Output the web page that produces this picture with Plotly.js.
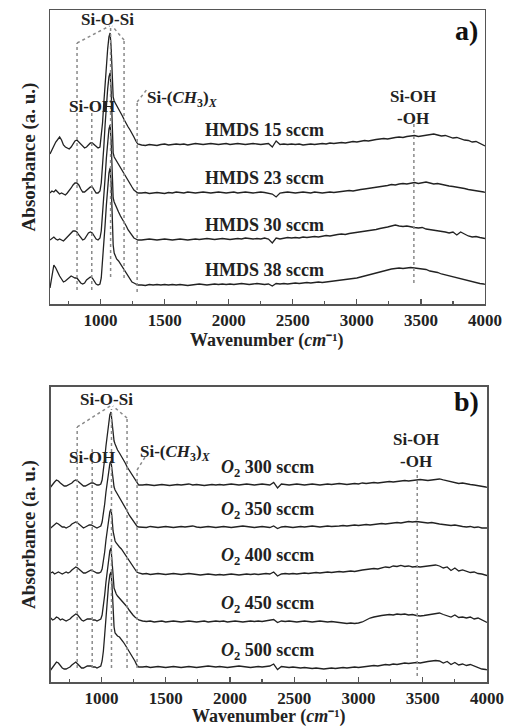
<!DOCTYPE html>
<html>
<head>
<meta charset="utf-8">
<script src="https://cdn.plot.ly/plotly-3.0.1.min.js"></script>
<style>html,body{margin:0;padding:0;background:#fff;}#chart{width:515px;height:727px;}</style>
</head>
<body>
<div id="chart"></div>
<script>
// Wavenumber sampling (cm^-1), shared by every spectrum
const wavenumber = [
  605,620,635,650,665,680,695,710,725,740,
  755,770,785,800,815,830,845,860,875,890,
  905,920,935,950,965,980,995,1005,1015,1025,
  1035,1045,1055,1065,1074,1082,1090,1098,1106,1115,
  1125,1140,1155,1170,1185,1200,1215,1230,1245,1260,
  1275,1290,
  1320,1350,1380,1410,1440,1470,1500,1530,1560,1590,
  1620,1650,1680,1710,1740,1770,1800,1830,1860,1890,
  1920,1950,1980,2010,2040,2070,2100,2130,2160,2190,
  2220,2250,2280,2310,2340,2370,2400,2430,2460,2490,
  2520,2550,2580,2610,2640,2670,2700,2730,2760,2790,
  2820,2850,2880,2910,2940,2970,3000,3030,3060,3090,
  3120,3150,3180,3210,3240,3270,3300,3330,3360,3390,
  3420,3450,3480,3510,3540,3570,3600,3630,3660,3690,
  3720,3750,3780,3810,3840,3870,3900,3930,3960,3990,
  4000
];

// Panel a) : HMDS flow series (absorbance, a.u., relative to own baseline)
const hmdsLabels = ['HMDS 15 sccm', 'HMDS 23 sccm', 'HMDS 30 sccm', 'HMDS 38 sccm'];
const hmdsOffset = [159, 111, 64, 19];
const hmds15 = [
  -9,-4,-1,3,6,8,5,0,-2,-3,
  -4,-2,1,4,5,3,0,-2,-3,-2,
  0,2,2,0,-2,-3,-2,8,22,42,
  62,80,96,108,112,98,72,48,44,42,
  40,37,33,29,25,21,18,15,12,8,
  4,1,
  0,-0.5,0.5,0,-0.5,0.5,1,0,0.5,1,
  0.5,1,0,0.5,1.5,1,0.5,1,1.5,1,
  0.5,1,1.5,0.5,1,1.5,1,0.5,1,1.5,
  1,0.5,1,1.5,-2,4,0.5,1,0.5,1,
  0.5,1,0,0.5,1,0.5,1,1.5,1,2,
  1.5,2,2.5,2,3,3.5,3,4,4.5,4,
  5,5.5,6,6.5,6,7,7.5,8,7.5,8.5,
  9,9.5,8.5,9,10,10.5,11,10,9,9.5,
  8,7,7.5,6,5,4.5,3,3.5,1.5,0,
  -1
];
const hmds23 = [
  0,2,1,3,1,-1,0,-1,-2,0,
  2,5,8,10,10,8,4,1,1,3,
  5,6,6,3,0,0,2,10,26,46,
  68,88,104,116,120,104,76,40,36,34,
  32,29,26,22,18,15,12,9,6,3,
  1,0,
  0,0.5,-0.5,0,0.5,0,-0.5,0.5,0,1,
  0.5,0,1,0.5,0,0.5,1,0.5,0,0.5,
  1,0.5,0,0.5,1,0,0.5,1,0.5,0,
  0.5,1,0.5,0,-1,-4,0,0.5,1,0.5,
  0,0.5,1,0.5,0,1,0.5,0,0.5,1,
  0.5,1,1.5,2,2.5,2,3,3.5,4,4.5,
  5,6,6.5,7,7.5,8.5,8,9,9.5,9,
  10,10.5,9.5,10,11,10,9,9.5,8.5,8,
  7,6.5,6,5,4.5,3.5,3,2,1.5,1,
  0.5
];
const hmds30 = [
  0,2,3,1,0,1,0,-1,1,3,
  5,7,9,9,8,5,2,0,1,4,
  7,8,7,4,1,0,2,9,24,42,
  62,82,100,111,115,100,70,42,38,35,
  32,28,24,21,18,14,10,7,4,2,
  1,0,
  0,0.5,1,0.5,0,0.5,1,0.5,0,0.5,
  1,0.5,0,0.5,1,0.5,1,1.5,1,0.5,
  1,1.5,1,0.5,1,1.5,1,2,1.5,1,
  1.5,1,2,1,-3,2,1,2,2.5,2,
  2.5,2,3,2.5,3,3.5,3,4,4.5,4,
  5,5.5,6,5.5,6.5,7,7.5,8,8.5,9,
  10,10.5,11.5,12,13,14,15,14,13.5,14,
  13,12.5,12,12.5,11,10.5,10,9,8.5,8,
  7,8,5,8,6,4,3,3.5,2.5,2,
  1.5
];
const hmds38 = [
  -3,8,20,17,12,9,6,3,4,6,
  8,9,8,7,7,4,2,1,2,5,
  7,8,7,4,1,0,1,7,22,40,
  60,80,98,112,117,102,72,40,32,29,
  26,24,21,18,15,11,8,5,3,2,
  1,0,
  0,-0.5,0.5,0,0.5,0,0.5,0,0.5,0,
  0.5,0,-0.5,0,0.5,1,0.5,0,0.5,1,
  0.5,1,0.5,1,0.5,1,1.5,1,0.5,1,
  1.5,1,0.5,1,-1,1.5,1,1.5,1,1.5,
  2,1.5,2,2.5,2,2.5,3,2.5,3,3.5,
  4,4.5,5,5,5.5,6,7,8,9,10,
  11,12,13,14.5,15.5,16,16.5,17,16.5,17,
  17.5,17,16.5,16,15.5,14,13.5,12.5,11,10,
  9,8,7,6.5,5,4,3.5,2.5,1.5,1,
  0.5
];

// Panel b) : O2 flow series
const o2Labels = ['300 sccm', '350 sccm', '400 sccm', '450 sccm', '500 sccm'];
const o2Offset = [197, 155, 109, 62, 15];
const o2_300 = [
  -2,1,3,5,4,2,0,-1,-1,0,
  1,2,4,5,4,2,0,-1,-1,0,
  1,2,2,1,0,0,1,5,14,26,
  39,51,62,70,73,64,50,44,41,38,
  35,32,29,25,22,18,15,11,8,5,
  2,0,
  0,0.5,0,-0.5,0,0.5,0,-0.5,0,0.5,
  0,0.5,1,0,0.5,0,-0.5,0,0.5,0,
  0.5,0,0.5,1,0.5,0,0.5,1,0.5,0,
  0.5,1,0.5,0,2.5,-3,1,0.5,0,0.5,
  1,0.5,0,0.5,1,0.5,0,0.5,1,0.5,
  1,1.5,1,0.5,1,1.5,1,2,1.5,2,
  2.5,2,2.5,3,3.5,3,3.5,4,4.5,4,
  4.5,5,5.5,5,4.5,5,5.5,6,5,4,
  3,2.5,1.5,2,1,0.5,0,-0.5,-1,-2,
  -2.5
];
const o2_350 = [
  -1,1,3,4,3,1,0,0,-1,0,
  1,3,4,5,4,2,0,-1,0,1,
  2,2,1,0,-1,0,1,5,12,23,
  35,46,56,63,66,58,46,40,37,35,
  33,30,27,23,19,16,12,9,6,3,
  1,0,
  0,-0.5,0.5,0,-0.5,0,0.5,0,-0.5,0,
  0.5,0,0.5,1,0,-0.5,0,0.5,0,-0.5,
  0,0.5,0,-0.5,0,0.5,1,0.5,0,-0.5,
  0,0.5,0,-0.5,1,-1.5,0,0.5,0,-0.5,
  0,0.5,0,0.5,1,0.5,0,0.5,1,0.5,
  0.5,1,1.5,1,1.5,2,1.5,2,2.5,2,
  2.5,3,3.5,3,3.5,4,4.5,4,5,5.5,
  5,5.5,5,4.5,4,4.5,3.5,3,2.5,2,
  1.5,2,1,0.5,0,0.5,-0.5,0,-1,-0.5,
  -1
];
const o2_400 = [
  0,1,-1,0,1,0,-1,0,1,0,
  1,3,5,6,5,3,1,0,0,1,
  2,3,2,1,0,0,1,4,11,21,
  33,44,54,61,64,56,42,35,32,30,
  28,26,24,21,18,15,12,9,6,3,
  1,0,
  -1,-0.5,-1.5,-1,-0.5,-1,-1.5,-1,-0.5,-1,
  -1.5,-1,-0.5,-1,-1.5,-2,-1.5,-1,-1.5,-2,
  -1.5,-2,-1.5,-1,-1.5,-2,-1.5,-1,-1.5,-1,
  -1.5,-1,-0.5,-1,1,-3,-1,-0.5,-1,-0.5,
  -1,-0.5,0,-0.5,0,0.5,0,0.5,1,0.5,
  1,1.5,1,1.5,2,1.5,2.5,3,3.5,4,
  4.5,4,5,6,5.5,7,6.5,7.5,6.5,7,
  6,6.5,6,6.5,7,7.5,8,7,5,6,
  2.5,5,2,3,1.5,0.5,1,-0.5,-1,-2,
  -2.5
];
const o2_450 = [
  2,0,1,3,2,0,1,0,-1,0,
  1,3,5,6,5,2,0,-1,0,1,
  1,1,0,0,-1,0,1,5,13,25,
  38,50,61,69,72,62,46,32,28,26,
  24,22,20,18,16,13,10,7,5,3,
  1,0,
  -1,-1.5,-1,-2,-1.5,-1,-2,-1.5,-1,-1.5,
  -2,-1.5,-1,-1.5,-2,-1.5,-1,-2,-1.5,-1,
  -1.5,-1,-2,-1.5,-1,-1.5,-2,-1.5,-1,-1.5,
  -1,-1.5,-1,-0.5,0.5,-2.5,-1,-1.5,-1,-1.5,
  -2,-1.5,-1,-1.5,-2,-1.5,-1,-1.5,-2,-1.5,
  -2,-2.5,-3,-3.5,-3,-3.5,-3,-2,0,2,
  3,4,4.5,5,5.5,5,6,5.5,6,5,
  5.5,4.5,4,4.5,5,6,6.5,7,5.5,4.5,
  3,5,2.5,3,2,3,1,2,0,-2,
  -2.5
];
const o2_500 = [
  -3,0,3,5,4,1,-1,-2,-2,-1,
  0,2,4,5,3,1,-1,-1,0,1,
  1,1,0,0,-1,0,1,6,16,32,
  50,67,82,92,95,82,60,40,34,32,
  31,30,28,25,22,19,16,13,9,6,
  2,0,
  0,0.5,-0.5,0,0.5,0,-0.5,0,0.5,0,
  -0.5,0,0.5,0,-0.5,0,0.5,1,0.5,0,
  0.5,0,-0.5,0,0.5,1,0.5,0,-0.5,0,
  0.5,0,0.5,1,3,-2.5,0.5,0,-0.5,0,
  -0.5,-1,-0.5,-1,-1.5,-1,-1.5,-2,-1.5,-1,
  -1.5,-1,-0.5,-1,-0.5,0,-0.5,0,0.5,1,
  1.5,1,2,2.5,2,3,2.5,3.5,4,3.5,
  4,4.5,4,5,5.5,6,6.5,6,4,5.5,
  2.5,4.5,2,3,1.5,2.5,1,0,-2,-2.5,
  -3
];

const hmdsSeries = [hmds15, hmds23, hmds30, hmds38];
const o2Series = [o2_300, o2_350, o2_400, o2_450, o2_500];

const serif = 'Liberation Serif, Times New Roman, serif';
const lineColor = '#222222';
const traces = [];
hmdsSeries.forEach((s, i) => {
  traces.push({x: wavenumber, y: s.map(v => v + hmdsOffset[i]), type: 'scatter', mode: 'lines',
    line: {color: lineColor, width: 1.3}, xaxis: 'x', yaxis: 'y', name: hmdsLabels[i], hoverinfo: 'skip'});
});
o2Series.forEach((s, i) => {
  traces.push({x: wavenumber, y: s.map(v => v + o2Offset[i]), type: 'scatter', mode: 'lines',
    line: {color: lineColor, width: 1.3}, xaxis: 'x2', yaxis: 'y2', name: 'O2 ' + o2Labels[i], hoverinfo: 'skip'});
});

const labFont = {family: serif, size: 17, color: '#222', weight: 'bold'};
const serFont = {family: serif, size: 18, color: '#222', weight: 'bold'};
const titleFont = {family: serif, size: 18, color: '#222', weight: 'bold'};
const annotations = [];
function ann(xref, yref, x, y, text, font) {
  annotations.push({xref: xref, yref: yref, x: x, y: y, text: text, showarrow: false,
    xanchor: 'center', yanchor: 'middle', font: font});
}
hmdsLabels.forEach((t, i) => ann('x', 'y', 2277, hmdsOffset[i] + 15, t, serFont));
o2Labels.forEach((t, i) => ann('x2', 'y2', 2293, o2Offset[i] + 16, '<i>O</i><sub>2</sub> ' + t, serFont));

const chText = 'Si-(<i>CH</i><sub>3</sub>)<sub><i>X</i></sub>';
// panel a labels
ann('x', 'y', 1050, 285, 'Si-O-Si', labFont);
ann('x', 'y', 933, 198, 'Si-OH', labFont);
ann('x', 'y', 1636, 205, chText, labFont);
ann('x', 'y', 3441, 197, 'Si-OH<br>-OH', labFont);
ann('x', 'y', 3855, 274, 'a)', {family: serif, size: 28, color: '#111', weight: 'bold'});
// panel b labels
ann('x2', 'y2', 1041, 282, 'Si-O-Si', labFont);
ann('x2', 'y2', 924, 224, 'Si-OH', labFont);
ann('x2', 'y2', 1577, 229, chText, labFont);
ann('x2', 'y2', 3444, 231, 'Si-OH<br>-OH', labFont);
ann('x2', 'y2', 3840, 280, 'b)', {family: serif, size: 28, color: '#111', weight: 'bold'});
// x-axis titles (placed under each panel's tick labels)
const xTitle = 'Wavenumber (<i>cm</i>⁻¹)';
annotations.push({xref: 'x domain', yref: 'paper', x: 0.5, y: (682 - 340) / 672, text: xTitle,
  showarrow: false, xanchor: 'center', yanchor: 'middle', font: titleFont});
annotations.push({xref: 'x2 domain', yref: 'paper', x: 0.5, y: (682 - 716.5) / 672, text: xTitle,
  showarrow: false, xanchor: 'center', yanchor: 'middle', font: titleFont});

const dot = {color: '#8a8a8a', width: 1.5, dash: 'dot'};
const shapes = [];
function seg(xr, yr, x0, y0, x1, y1) {
  shapes.push({type: 'line', xref: xr, yref: yr, x0: x0, y0: y0, x1: x1, y1: y1, line: dot});
}
// panel a guide lines
seg('x','y', 816, 14, 816, 261);
seg('x','y', 931, 14, 931, 199);
seg('x','y', 1078, 27, 1078, 277);
seg('x','y', 1183, 26, 1183, 264);
seg('x','y', 1285, 12, 1285, 202);
seg('x','y', 3445, 21, 3445, 189);
seg('x','y', 816, 261, 1070, 278);
seg('x','y', 1183, 264, 1090, 278);
seg('x','y', 1285, 202, 1370, 216);
// panel b guide lines
seg('x2','y2', 811, 14, 811, 255);
seg('x2','y2', 928, 14, 928, 235);
seg('x2','y2', 1078, 14, 1078, 273);
seg('x2','y2', 1199, 14, 1199, 264);
seg('x2','y2', 1277, 14, 1277, 212);
seg('x2','y2', 3457, 6, 3457, 212);
seg('x2','y2', 811, 255, 1068, 276);
seg('x2','y2', 1199, 264, 1088, 276);
seg('x2','y2', 1277, 212, 1340, 225);

function xAxis(domain) {
  return {
    domain: domain, range: [605, 4000], tickmode: 'array',
    tickvals: [1000, 1500, 2000, 2500, 3000, 3500, 4000],
    ticks: 'inside', ticklen: 5, tickwidth: 1.2, tickcolor: '#555',
    minor: {tickmode: 'array', tickvals: [750, 1250, 1750, 2250, 2750, 3250, 3750], ticks: 'inside', ticklen: 3, tickcolor: '#555', tickwidth: 1.2},
    showline: true, mirror: true, linecolor: '#555', linewidth: 1.5,
    showgrid: false, zeroline: false, automargin: false,
    tickfont: {family: serif, size: 17, color: '#222', weight: 'bold'}
  };
}
function yAxis(domain, range) {
  return {
    domain: domain, range: range, showticklabels: false, ticks: '',
    showline: true, mirror: true, linecolor: '#555', linewidth: 1.5,
    showgrid: false, zeroline: false, automargin: false,
    title: {text: 'Absorbance (a. u.)', font: {family: serif, size: 19, color: '#222', weight: 'bold'}, standoff: 8}
  };
}

const layout = {
  width: 515, height: 727,
  margin: {l: 50, r: 28, t: 10, b: 45},
  paper_bgcolor: '#fff', plot_bgcolor: '#fff',
  showlegend: false,
  xaxis: Object.assign(xAxis([0, 0.9954]), {anchor: 'y'}),
  yaxis: Object.assign(yAxis([0.5625, 1], [0, 294]), {anchor: 'x'}),
  xaxis2: Object.assign(xAxis([0.0016, 1]), {anchor: 'y2'}),
  yaxis2: Object.assign(yAxis([0, 0.439], [0, 295]), {anchor: 'x2'}),
  annotations: annotations,
  shapes: shapes
};

Plotly.newPlot('chart', traces, layout, {staticPlot: true, displayModeBar: false});
</script>
</body>
</html>
